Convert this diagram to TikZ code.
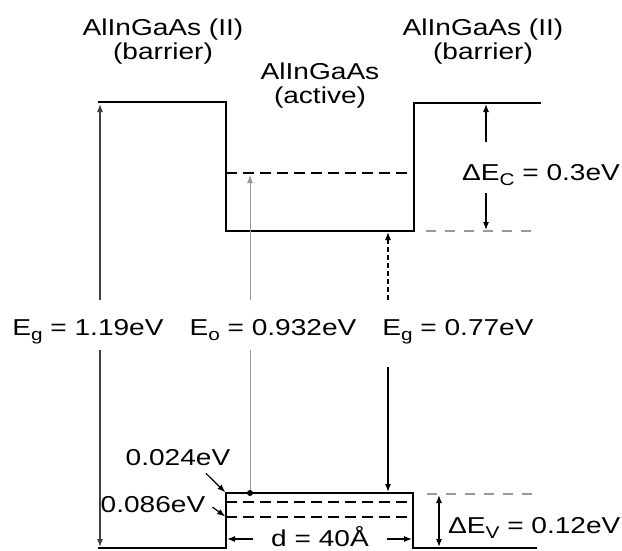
\documentclass[tikz,border=0pt]{standalone}
\usepackage{fontspec}
\setmainfont{Liberation Sans}[FakeStretch=1.22]
\usetikzlibrary{arrows.meta, positioning, calc}
\newcommand{\lowidx}[1]{\raisebox{-0.45ex}{\fontsize{17}{17}\selectfont #1}}

\begin{document}
\begin{tikzpicture}[x=1pt, y=-1pt, font=\fontsize{23}{24}\selectfont,
  band/.style={line width=2.6pt},
  qlevel/.style={line width=2.4pt, dash pattern=on 11pt off 6pt},
  guide/.style={black!40, line width=1.1pt, dash pattern=on 10pt off 9pt},
  dim/.style={line width=1.2pt, -{Latex[length=8pt, width=6pt]}},
  twodim/.style={line width=1.2pt, {Latex[length=8pt, width=6pt]}-{Latex[length=8pt, width=6pt]}},
  elabel/.style={anchor=base, inner sep=0pt, text height=35pt, text depth=15pt}]
  \useasboundingbox (0,0) rectangle (622,550);

  % Leitungsband
  \draw[band] (98,102) -- (226,102) -- (226,231) -- (414,231) -- (414,103) -- (541,103);
  % Valenzband
  \draw[band] (98,548) -- (226,548) -- (226,493) -- (413,493) -- (413,548) -- (537,548);

  % gebundene Zustaende
  \draw[qlevel] (226,173) -- (414,173);
  \draw[qlevel] (226,502) -- (413,502);
  \draw[qlevel] (226,517) -- (413,517);

  % Bandkanten der Barriere
  \draw[guide] (426,231) -- (540,231);
  \draw[guide] (427,494) -- (540,494);

  % Pfeilenden
  \coordinate (cbL) at (100,104);
  \coordinate (vbL) at (100,547);
  \coordinate (eoT) at (250,175);
  \coordinate (eoB) at (250,493);
  \coordinate (cwB) at (388,232);
  \coordinate (vwT) at (388,492);
  \coordinate (cbR) at (486,104);
  \coordinate (cwR) at (486,230);
  \coordinate (vwR) at (439,495);
  \coordinate (vbR) at (439,547);
  \coordinate (dL) at (227,539);
  \coordinate (dR) at (412,539);
  \coordinate (vwTL) at (226,493);
  \coordinate (hhL) at (226,517);

  % Schichten
  \node[align=center] (barL) at (163,42) {AlInGaAs (II)\\(barrier)};
  \node[align=center] (barR) at (483,42) {AlInGaAs (II)\\(barrier)};
  \node[align=center] (well) at (320,86) {AlInGaAs\\(active)};

  % Energien
  \node[elabel] (egB) at (88,335) {E\lowidx{g} = 1.19eV};
  \node[elabel] (eoL) at (273,335) {E\lowidx{o} = 0.932eV};
  \node[elabel, text depth=32pt] (egW) at (458,335) {E\lowidx{g} = 0.77eV};
  \node[elabel, anchor=base west, text height=38pt, text depth=13pt] (dcL) at (462,180) {ΔE\lowidx{C} = 0.3eV};
  \node[anchor=base west, inner sep=0pt] (dvL) at (448,533) {ΔE\lowidx{V} = 0.12eV};
  \node[anchor=base, inner sep=2pt] (l24) at (178,465) {0.024eV};
  \node[anchor=base, inner sep=2pt] (l86) at (153,512) {0.086eV};
  \node[anchor=base, inner xsep=18pt, inner ysep=0pt] (dlab) at (320,546) {d = 40Å};

  % Pfeile
  \draw[dim, black!75] (egB.north -| cbL) -- (cbL);
  \draw[dim, black!75] (egB.south -| cbL) -- (vbL);
  \draw[dim, black!40, line width=1pt] (eoL.north -| eoT) -- (eoT);
  \draw[black!40, line width=1pt] (eoL.south -| eoB) -- (eoB);
  \fill (eoB) circle (3pt);
  \draw[dim, dash pattern=on 5pt off 3pt] (egW.north -| cwB) -- (cwB);
  \draw[dim] (egW.south -| vwT) -- (vwT);
  \draw[dim] (dcL.north -| cbR) -- (cbR);
  \draw[dim] (dcL.south -| cwR) -- (cwR);
  \draw[twodim] (vwR) -- (vbR);
  \draw[dim] (dlab.west |- dL) -- (dL);
  \draw[dim] (dlab.east |- dR) -- (dR);
  \draw[dim, shorten >=1pt] ($(l24.south)+(28,6)$) -- (vwTL);
  \draw[dim, shorten >=1pt] ($(l86.east)+(5,3)$) -- (hhL);
\end{tikzpicture}
\end{document}
